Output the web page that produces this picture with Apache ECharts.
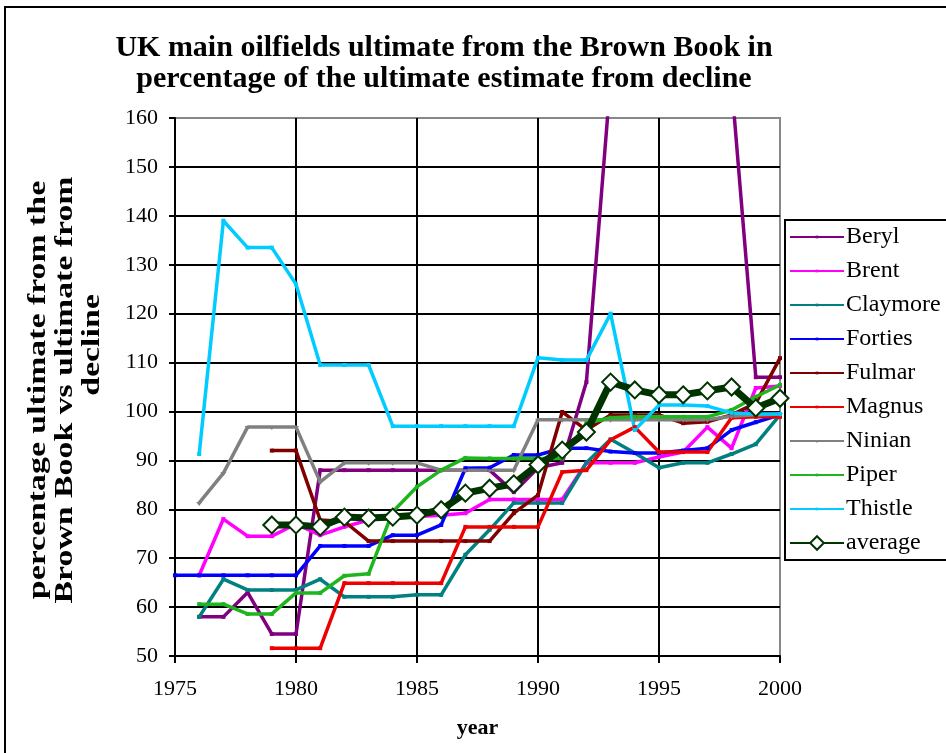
<!DOCTYPE html>
<html>
<head>
<meta charset="utf-8">
<script src="https://cdn.jsdelivr.net/npm/echarts@6/dist/echarts.min.js"></script>
<style>
html,body{margin:0;padding:0;background:#fff;}
#chart{width:946px;height:753px;}
</style>
</head>
<body>
<div id="chart"></div>
<script>
var years = [1975,1976,1977,1978,1979,1980,1981,1982,1983,1984,1985,1986,1987,1988,1989,1990,1991,1992,1993,1994,1995,1996,1997,1998,1999,2000];
var beryl    = [null,58,58,63,54.5,54.5,88,88,88,88,88,88,88,88,83.5,88.5,89.5,106,168,170,170,170,170,167,107,107];
var brent    = [null,66.5,78,74.5,74.5,77,74.7,76.4,77.8,78.4,78.5,78.8,79.2,82,82,82,82,89.5,89.5,89.5,90.7,91.7,96.8,92.5,104.8,105.2];
var claymore = [null,58,65.7,63.5,63.5,63.5,65.7,62.1,62.1,62.1,62.5,62.5,70.7,75.8,81.3,81.3,81.3,89.5,94.3,91.5,88.5,89.5,89.5,91.3,93.3,99.3];
var forties  = [66.5,66.5,66.5,66.5,66.5,66.5,72.5,72.5,72.5,74.7,74.7,76.8,88.4,88.5,91.1,91.1,92.5,92.5,91.8,91.5,91.5,92,92.5,96.2,97.8,99.3];
var fulmar   = [null,null,null,null,92,92,77.8,77.5,73.5,73.5,73.5,73.5,73.5,73.5,79.2,82.9,99.9,96.2,99.3,99.3,99.3,97.6,97.9,99.3,101.7,110.9];
var magnus   = [null,null,null,null,51.6,51.6,51.6,64.9,64.9,64.9,64.9,64.9,76.4,76.4,76.4,76.4,87.6,88,94.2,96.8,91.7,91.7,91.7,98.7,98.9,98.9];
var ninian   = [null,81.3,87.4,96.8,96.8,96.8,85.6,89.5,89.5,89.5,89.5,88,88,88,88,98.3,98.3,98.3,98.3,98.3,98.3,98.3,98.3,99,99.3,99.5];
var piper    = [null,60.6,60.6,58.6,58.6,62.9,62.9,66.4,66.8,79.5,84.6,88,90.5,90.4,90.4,90.4,90.4,97.6,98.7,98.9,98.9,98.9,98.9,100.3,103,105.4];
var thistle  = [null,91.3,139,133.5,133.5,126,109.5,109.5,109.5,97,97,97,97,97,97,111,110.5,110.5,120,96.2,101.3,101.3,101.1,99.7,99.5,99.5];
var average  = [null,null,null,null,76.8,76.8,76.4,78.4,78.2,78.4,78.8,79.9,83.3,84.3,85.2,89.1,92.1,95.8,106,104.4,103.4,103.4,104.2,105,100.7,102.7];
var xTicks = [1975,1980,1985,1990,1995,2000];
var yTicks = [50,60,70,80,90,100,110,120,130,140,150,160];

var FONT = '"Liberation Serif","Times New Roman",serif';
// small marker drawn inside a larger invisible box (moveTo points define the box)
var SMALL_SQ = 'path://M0,0M20,20M8,8L12,8L12,12L8,12Z';
var SMALL_TRI = 'path://M0,0M20,20M7,9L13,9L10,13Z';

function pairs(arr){
  var out = [];
  for (var i = 0; i < years.length; i++) out.push([years[i], arr[i]]);
  return out;
}
function mk(name, arr, color, symbol){
  return {
    name: name, type: 'line', data: pairs(arr), connectNulls: false,
    symbol: symbol, symbolSize: 20, showSymbol: true,
    lineStyle: {color: color, width: 3.5},
    itemStyle: {color: color},
    emphasis: {disabled: true}, animation: false
  };
}

var chart = echarts.init(document.getElementById('chart'), null, {renderer: 'canvas'});
var option = {
  backgroundColor: '#fff',
  animation: false,
  title: {
    text: 'UK main oilfields ultimate from the Brown Book in\npercentage of the ultimate estimate from decline',
    left: 439, textAlign: 'center', top: 28,
    textStyle: {fontFamily: FONT, fontWeight: 'bold', fontSize: 30, lineHeight: 31, color: '#000'}
  },
  graphic: [
    {
      type: 'rect', shape: {x: 5, y: 7, width: 960, height: 760},
      style: {fill: 'none', stroke: '#000', lineWidth: 2}, silent: true, z: 0
    },
    {
      type: 'text', x: 38, y: 390, rotation: Math.PI / 2, scaleX: 1.3,
      style: {text: 'percentage ultimate from the', font: 'bold 26px ' + FONT, fill: '#000', textAlign: 'center', textVerticalAlign: 'middle'},
      silent: true
    },
    {
      type: 'text', x: 65, y: 390, rotation: Math.PI / 2, scaleX: 1.3,
      style: {text: 'Brown Book vs ultimate from', font: 'bold 26px ' + FONT, fill: '#000', textAlign: 'center', textVerticalAlign: 'middle'},
      silent: true
    },
    {
      type: 'text', x: 92, y: 345, rotation: Math.PI / 2, scaleX: 1.3,
      style: {text: 'decline', font: 'bold 26px ' + FONT, fill: '#000', textAlign: 'center', textVerticalAlign: 'middle'},
      silent: true
    }
  ],
  legend: {
    orient: 'vertical', left: 785, top: 220,
    padding: [5, 10, 5, 4],
    itemWidth: 54, itemHeight: 17, itemGap: 10,
    borderColor: '#000', borderWidth: 2, backgroundColor: '#fff',
    selectedMode: false,
    textStyle: {fontFamily: FONT, fontSize: 24, color: '#000', padding: [0, 0, 0, -3]},
    data: ['Beryl','Brent','Claymore','Forties','Fulmar','Magnus','Ninian','Piper','Thistle','average']
  },
  grid: {left: 175, right: 166, top: 118, bottom: 97, show: true, borderColor: '#888', borderWidth: 2, backgroundColor: '#fff'},
  xAxis: {
    type: 'value', min: xTicks[0], max: xTicks[xTicks.length-1], interval: 5,
    name: 'year', nameLocation: 'middle', nameGap: 61,
    nameTextStyle: {fontFamily: FONT, fontWeight: 'bold', fontSize: 22, color: '#000'},
    axisLine: {show: true, lineStyle: {color: '#000', width: 2}},
    axisTick: {show: true, length: 7, lineStyle: {color: '#000', width: 2}},
    axisLabel: {fontFamily: FONT, fontSize: 22, color: '#000', margin: 22, formatter: function(v){return String(v);}},
    splitLine: {show: true, showMaxLine: false, showMinLine: false, lineStyle: {color: '#000', width: 2}}
  },
  yAxis: {
    type: 'value', min: yTicks[0], max: yTicks[yTicks.length-1], interval: 10,
    axisLine: {show: true, lineStyle: {color: '#000', width: 2}},
    axisTick: {show: true, length: 6, lineStyle: {color: '#000', width: 2}},
    axisLabel: {fontFamily: FONT, fontSize: 22, color: '#000', margin: 17},
    splitLine: {show: true, showMaxLine: false, showMinLine: false, lineStyle: {color: '#000', width: 2}}
  },
  series: [
    mk('Beryl', beryl, '#800080', SMALL_SQ),
    mk('Brent', brent, '#FF00FF', SMALL_SQ),
    mk('Claymore', claymore, '#008080', SMALL_SQ),
    mk('Forties', forties, '#0000FF', SMALL_SQ),
    mk('Fulmar', fulmar, '#800000', SMALL_SQ),
    mk('Magnus', magnus, '#EE0000', SMALL_SQ),
    mk('Ninian', ninian, '#808080', SMALL_TRI),
    mk('Piper', piper, '#1FB51F', SMALL_SQ),
    mk('Thistle', thistle, '#00CCFF', SMALL_SQ),
    {
      name: 'average', type: 'line', data: pairs(average),
      symbol: 'diamond', symbolSize: 17, showSymbol: true,
      lineStyle: {color: '#003300', width: 7},
      itemStyle: {color: '#fff', borderColor: '#003300', borderWidth: 2},
      emphasis: {disabled: true}, animation: false, z: 5
    }
  ]
};
chart.setOption(option);
</script>
</body>
</html>
